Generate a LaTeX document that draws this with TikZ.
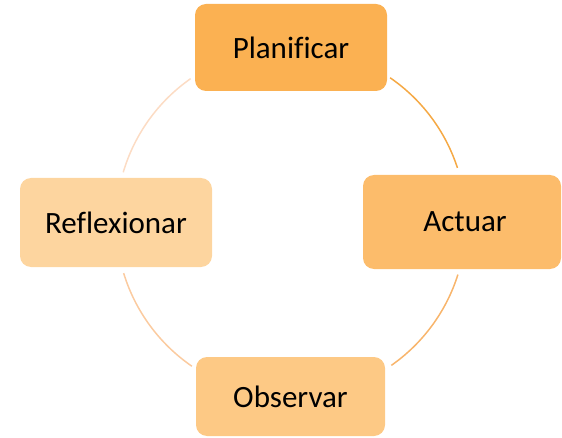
\documentclass[tikz,border=0pt]{standalone}
\usepackage{fontspec}
\setmainfont{Carlito}[Ligatures=NoCommon]
\usetikzlibrary{calc}
\definecolor{cPlan}{HTML}{FBB152}
\definecolor{cAct}{HTML}{FCBC6B}
\definecolor{cObs}{HTML}{FDC985}
\definecolor{cRef}{HTML}{FDD59F}
\definecolor{aOne}{HTML}{F5A945}
\definecolor{aTwo}{HTML}{F8B56C}
\definecolor{aThree}{HTML}{FBCBA0}
\definecolor{aFour}{HTML}{FCDCC4}
\begin{document}
\begin{tikzpicture}[x=1pt,y=1pt,
  stagebox/.style={rounded corners=11pt, inner sep=0pt, font=\fontsize{31}{37}\selectfont, text=black},
  cyc/.style={line width=1.5pt}]
\useasboundingbox (0,0) rectangle (562,437);
% image y -> tikz y = 437 - y
\coordinate (C) at (291,215);
\node[stagebox, fill=cPlan, minimum width=192pt, minimum height=87pt] (plan) at (291,389.5) {Planificar};
\node[stagebox, fill=cAct, minimum width=198pt, minimum height=94pt] (act) at (462,215) {\hspace*{6pt}Actuar};
\node[stagebox, fill=cObs, minimum width=189pt, minimum height=79pt] (obs) at (290.5,40.5) {Observar};
\node[stagebox, fill=cRef, minimum width=192pt, minimum height=89pt] (ref) at (116,214.5) {Reflexionar};
\coordinate (p1) at ($(C)+(55.5:175)$);
\coordinate (p2) at ($(C)+(-17.5:175)$);
\coordinate (p3) at ($(C)+(-124.5:175)$);
\coordinate (p4) at ($(C)+(163.5:175)$);
\draw[cyc, aOne] (p1) arc[start angle=55.5, end angle=18, radius=175];
\draw[cyc, aTwo] (p2) arc[start angle=-17.5, end angle=-55, radius=175];
\draw[cyc, aThree] (p3) arc[start angle=-124.5, end angle=-163, radius=175];
\draw[cyc, aFour] (p4) arc[start angle=163.5, end angle=125, radius=175];
\end{tikzpicture}
\end{document}
